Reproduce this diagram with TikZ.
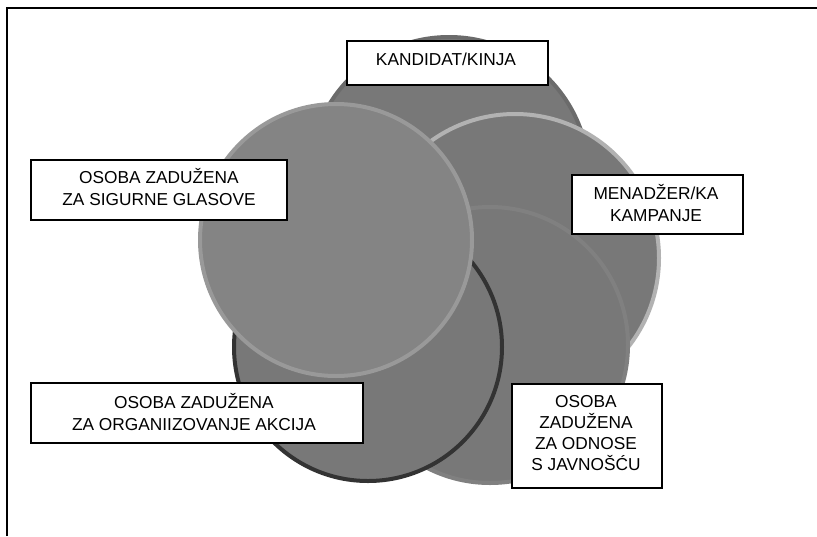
\documentclass[tikz,border=0pt]{standalone}
\usepackage{fontspec}
\setmainfont{Liberation Sans}
\begin{document}
\begin{tikzpicture}[x=1pt,y=-1pt,
  circ/.style={line width=4pt},
  box/.style={draw=black,line width=1.6pt,fill=white,inner sep=0pt},
  lbl/.style={align=center,inner sep=0pt,anchor=base,
    font=\fontsize{17.3}{22}\selectfont},
  lblt/.style={lbl,font=\fontsize{17.3}{21}\selectfont}]
\definecolor{cfill}{HTML}{787878}
\definecolor{cfilltwo}{HTML}{848484}
\useasboundingbox (0,0) rectangle (817,536);
\fill[white] (0,0) rectangle (817,536);
% frame
\coordinate (fa) at (7,536);
\coordinate (fb) at (7,8);
\coordinate (fc) at (817,8);
\draw[line width=1.8pt,black] (fa) -- (fb) -- (fc);
% circles (back to front)
\path[circ,fill=cfill,draw=black!58] (449,177) circle[radius=140] coordinate (c1);
\path[circ,fill=cfill,draw=black!30] (515,258) circle[radius=144] coordinate (c3);
\path[circ,fill=cfill,draw=black!50] (490,345) circle[radius=138] coordinate (c4);
\path[circ,fill=cfill,draw=black!80] (368,347) circle[radius=134] coordinate (c5);
\path[circ,fill=cfilltwo,draw=black!40] (336,240) circle[radius=136] coordinate (c2);
% boxes
\node[box,minimum width=201pt,minimum height=44pt] (bkand) at (447.5,63) {};
\node[lbl] (tkand) at (446,65) {KANDIDAT/KINJA};
\node[box,minimum width=256pt,minimum height=60pt] (bsig) at (159,190) {};
\node[lbl] (tsig) at (159,205.5) {OSOBA ZADUŽENA\\ZA SIGURNE GLASOVE};
\node[box,minimum width=171pt,minimum height=59pt] (bmen) at (657.5,204.5) {};
\node[lbl] (tmen) at (656,221.5) {MENADŽER/KA\\KAMPANJE};
\node[box,minimum width=332pt,minimum height=60pt] (borg) at (197,413) {};
\node[lbl] (torg) at (194,430.5) {OSOBA ZADUŽENA\\ZA ORGANIIZOVANJE AKCIJA};
\node[box,minimum width=150pt,minimum height=104pt] (bodn) at (587,436) {};
\node[lblt] (todn) at (586,470) {OSOBA\\ZADUŽENA\\ZA ODNOSE\\S JAVNOŠĆU};
\end{tikzpicture}
\end{document}
